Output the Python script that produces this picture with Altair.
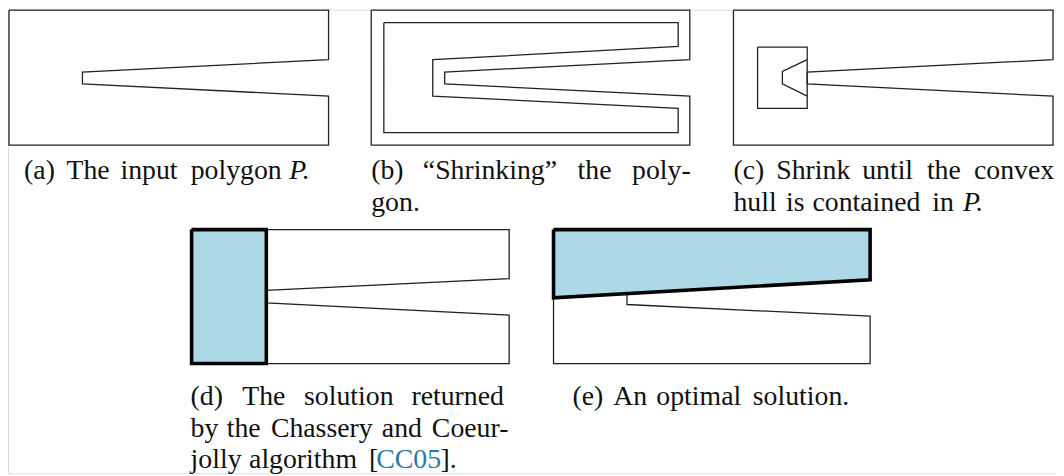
import altair as alt
import pandas as pd

# ---------------- polygon data (page-pixel coordinates, y pointing down) ----------------
a_x = [9, 331, 331, 83, 83, 331, 331, 9, 9]
a_y = [8.3, 8.3, 58.3, 70.7, 82.7, 95, 144.3, 144.3, 8.3]

b_outer_x = [374, 695, 695, 448, 448, 695, 695, 374, 374]
b_outer_y = [8.3, 8.3, 58.3, 70.7, 82.7, 95, 144.3, 144.3, 8.3]
b_inner_x = [386.7, 683.3, 683.3, 436, 436, 683.3, 683.3, 386.7, 386.7]
b_inner_y = [21, 21, 45, 58.3, 95, 107.3, 131.7, 131.7, 21]

c_outer_x = [739, 1061, 1061, 813.3, 813.3, 1061, 1061, 739, 739]
c_outer_y = [8.3, 8.3, 58.3, 70.7, 82.7, 95, 144.3, 144.3, 8.3]
c_hull_x = [763.3, 813.3, 813.3, 763.3, 763.3]
c_hull_y = [45.7, 45.7, 107.3, 107.3, 45.7]
c_core_x = [813.3, 788.3, 788.3, 813.3]
c_core_y = [58.3, 70, 82.7, 95]

d_outer_x = [193, 513, 513, 268.3, 268.3, 513, 513, 193, 193]
d_outer_y = [229.5, 229.5, 279, 290.7, 303.3, 315.7, 364.5, 364.5, 229.5]
d_sol_x = [193, 268.3, 268.3, 193, 193]
d_sol_y = [229.5, 229.5, 364.5, 364.5, 229.5]

e_outer_x = [557.7, 876.7, 876.7, 631.7, 631.7, 876.7, 876.7, 557.7, 557.7]
e_outer_y = [229.5, 229.5, 280, 294, 305, 316.7, 364.5, 364.5, 229.5]
e_sol_x = [557.7, 876.7, 876.7, 557.7, 557.7]
e_sol_y = [229.5, 229.5, 280, 298.3, 229.5]

# ---------------- caption words ----------------
roman_words = ["(a)", "The", "input", "polygon",
               "(b)", "\u201cShrinking\u201d", "the", "poly-", "gon.",
               "(c)", "Shrink", "until", "the", "convex",
               "hull", "is", "contained", "in",
               "(d)", "The", "solution", "returned",
               "by", "the", "Chassery", "and", "Coeur-",
               "jolly", "algorithm", "[", "].",
               "(e)", "An", "optimal", "solution."]
roman_x = [24.2, 66.9, 121.3, 192.1,
           374, 426, 581.9, 636.8, 374,
           739, 782.1, 868.7, 933.9, 981.4,
           739, 792, 818.6, 939.3,
           192, 244, 306.3, 414.5,
           192, 228.4, 272.9, 384.7, 435.1,
           192, 250.9, 371.7, 443.9,
           576.7, 617.9, 661.3, 758.5]
roman_y = [179, 179, 179, 179,
           179, 179, 179, 179, 211,
           179, 179, 179, 179, 179,
           211, 211, 211, 211,
           406, 406, 406, 406,
           438, 438, 438, 438, 438,
           470, 470, 470, 470,
           406, 406, 406, 406]

italic_words = ["P.", "P."]
italic_x = [291.5, 970.2]
italic_y = [179, 211]

cite_words = ["CC05"]
cite_x = [379.1]
cite_y = [470]


def shape_frame(shapes):
    rows = []
    for name, xs, ys in shapes:
        for i, (x, y) in enumerate(zip(xs, ys)):
            rows.append({"shape": name, "i": i, "x": x, "y": y})
    return pd.DataFrame(rows)


thin_df = shape_frame([
    ("a", a_x, a_y),
    ("b_outer", b_outer_x, b_outer_y),
    ("b_inner", b_inner_x, b_inner_y),
    ("c_outer", c_outer_x, c_outer_y),
    ("c_hull", c_hull_x, c_hull_y),
    ("c_core", c_core_x, c_core_y),
    ("d_outer", d_outer_x, d_outer_y),
    ("e_outer", e_outer_x, e_outer_y),
])
sol_df = shape_frame([
    ("d_sol", d_sol_x, d_sol_y),
    ("e_sol", e_sol_x, e_sol_y),
])

roman_df = pd.DataFrame({"t": roman_words, "x": roman_x, "y": roman_y})
italic_df = pd.DataFrame({"t": italic_words, "x": italic_x, "y": italic_y})
cite_df = pd.DataFrame({"t": cite_words, "x": cite_x, "y": cite_y})

W, H = 1056, 467
xs = alt.Scale(domain=[8, 8 + W], nice=False, zero=False)
ys = alt.Scale(domain=[8, 8 + H], nice=False, zero=False, reverse=True)
X = alt.X("x:Q", scale=xs, axis=None)
Y = alt.Y("y:Q", scale=ys, axis=None)

thin = alt.Chart(thin_df).mark_line(
    color="#222222", strokeWidth=1.3, strokeJoin="miter"
).encode(x=X, y=Y, detail="shape:N", order="i:Q")

sol = alt.Chart(sol_df).mark_line(
    fill="#add8e6", stroke="#000000", strokeWidth=3.6, strokeJoin="miter"
).encode(x=X, y=Y, detail="shape:N", order="i:Q")

FONT = "Liberation Serif"
FS = 28
roman = alt.Chart(roman_df).mark_text(
    font=FONT, fontSize=FS, align="left", baseline="alphabetic", color="#111111"
).encode(x=X, y=Y, text="t:N")
italic = alt.Chart(italic_df).mark_text(
    font=FONT, fontSize=FS, fontStyle="italic", align="left", baseline="alphabetic", color="#111111"
).encode(x=X, y=Y, text="t:N")
cite = alt.Chart(cite_df).mark_text(
    font=FONT, fontSize=FS, align="left", baseline="alphabetic", color="#2a7aa8"
).encode(x=X, y=Y, text="t:N")

chart = alt.layer(thin, sol, roman, italic, cite).properties(
    width=W, height=H, padding=0, autosize=alt.AutoSizeParams(type="none")
).configure_view(stroke=None).configure(background="white")

chart.save("out.html", embed_options={"renderer": "svg", "actions": False})
